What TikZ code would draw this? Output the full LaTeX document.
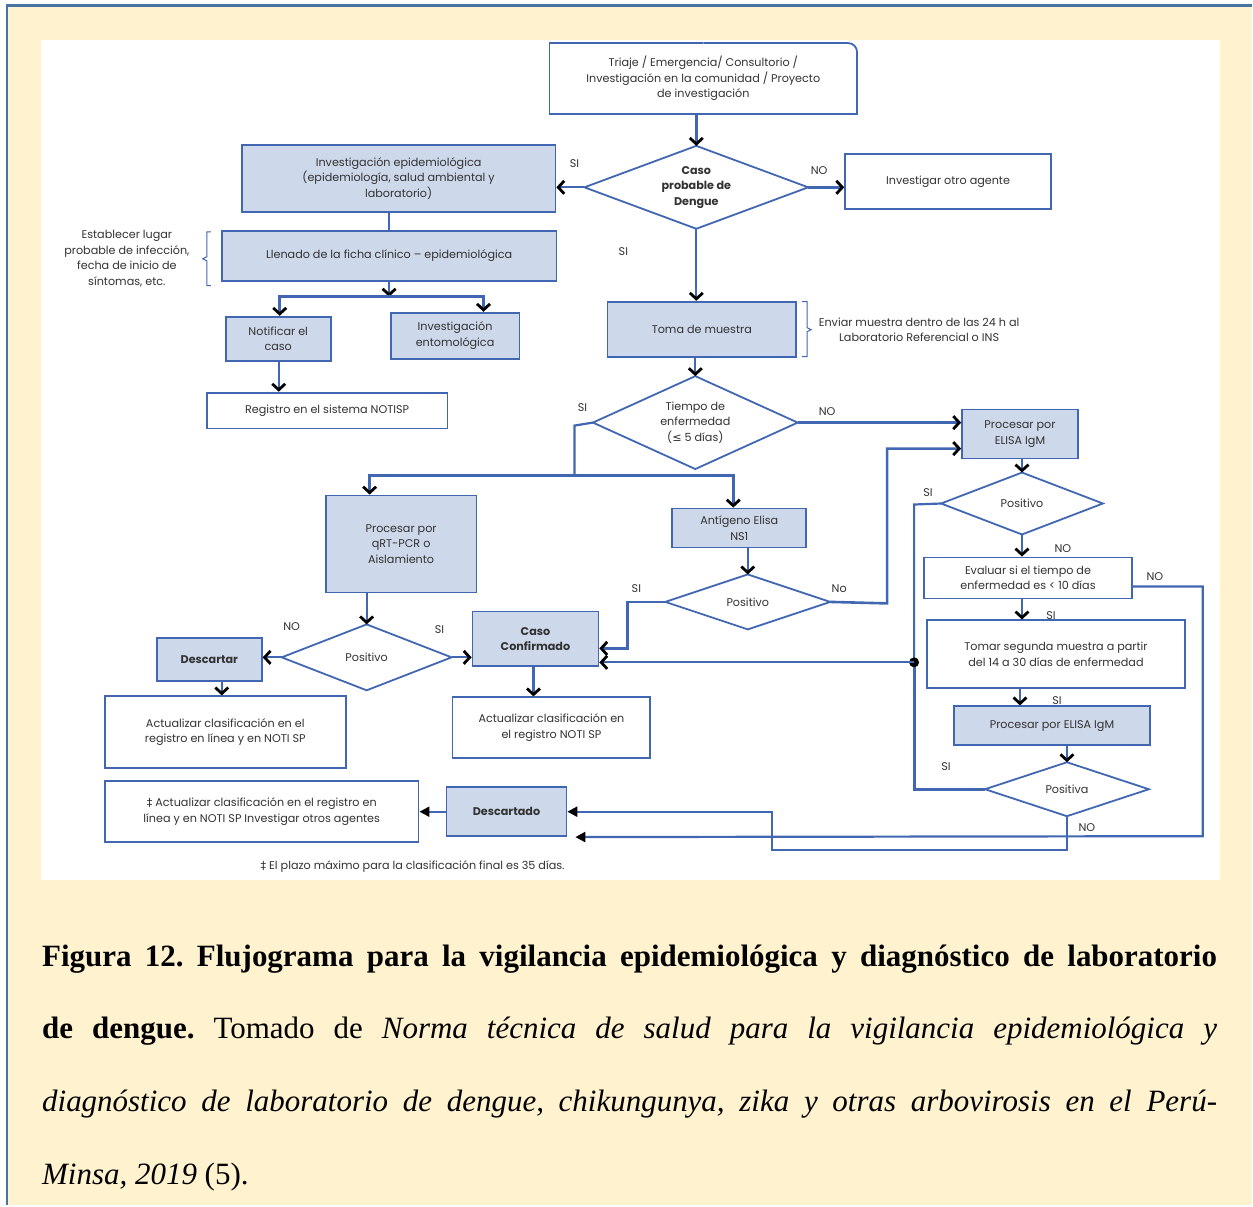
\documentclass[tikz,border=0pt]{standalone}
\usepackage{fontspec}
\setmainfont{Poppins}
\newfontfamily\capfont{Liberation Serif}
\newfontfamily\symf{DejaVu Sans}
\usetikzlibrary{arrows.meta}
\definecolor{bl}{RGB}{65,103,178}
\definecolor{fl}{RGB}{205,216,234}
\definecolor{tx}{RGB}{50,50,50}
\definecolor{cream}{RGB}{255,242,206}
\definecolor{framec}{RGB}{70,115,160}
\newcommand\dmd[7][]{%
  \node[align=center,inner sep=0pt,#1] (#2) at (#3,#4) {#7};
  \coordinate (#2-w) at ({#3-#5},#4);
  \coordinate (#2-e) at ({#3+#5},#4);
  \coordinate (#2-n) at (#3,{#4-#6});
  \coordinate (#2-s) at (#3,{#4+#6});
  \draw[dm] (#2-w) -- (#2-n) -- (#2-e) -- (#2-s) -- cycle;
}
\begin{document}
\frenchspacing
\begin{tikzpicture}[x=1pt,y=-1pt,
  every node/.style={text=tx,font=\fontsize{11.2}{15.5}\selectfont},
  bx/.style={draw=bl,line width=1.8pt,fill=white,align=center,inner sep=0pt},
  fbx/.style={bx,fill=fl},
  bold/.style={font=\bfseries\fontsize{11.2}{15.5}\selectfont},
  ln/.style={draw=bl,line width=2.2pt},
  arr/.style={ln,-{Straight Barb[color=black,length=6pt,width=13pt,line width=2.8pt]}},
  farr/.style={ln,-{Triangle[color=black,length=10pt,width=10pt]}},
  dm/.style={draw=bl,line width=1.8pt,line join=miter},
  lab/.style={inner sep=0pt},
  brk/.style={draw=bl,line width=1pt},
]
% background and frame
\fill[white] (0,0) rectangle (1253,1206);
\fill[cream] (6,4) rectangle (1253,1206);
\draw[framec,line width=2.5pt] (7.2,1206) -- (7.2,5.6) -- (1253,5.6);
\fill[white] (41,40) rectangle (1221,881);
\useasboundingbox (0,0) rectangle (1253,1206);

% ---------- boxes ----------
\node[bx,draw=none,minimum width=306pt,minimum height=69pt] (top) at (704,78.5)
  {Triaje / Emergencia/ Consultorio /\\Investigación en la comunidad / Proyecto\\de investigación};
\draw[bl,line width=1.8pt,rounded corners=9pt] (top.north) -- (top.north east) -- (top.east);
\draw[bl,line width=1.8pt] (top.east) -- (top.south east) -- (top.south west) -- (top.north west) -- (top.north);

\node[fbx,minimum width=314pt,minimum height=67pt] (inv) at (399,178.5)
  {Investigación epidemiológica\\(epidemiología, salud ambiental y\\laboratorio)};
\node[bx,minimum width=206pt,minimum height=55pt] (otro) at (949,181.5) {Investigar otro agente};
\node[fbx,minimum width=335pt,minimum height=50pt] (llen) at (389.5,256)
  {Llenado de la ficha clínico – epidemiológica};
\node[align=center,inner sep=0pt] (est) at (127,259)
  {Establecer lugar\\probable de infección,\\fecha de inicio de\\síntomas, etc.};
\node[fbx,minimum width=105pt,minimum height=44pt] (noti) at (278.5,339) {Notificar el\\caso};
\node[fbx,minimum width=129pt,minimum height=46pt] (ent) at (455.5,336) {Investigación\\entomológica};
\node[bx,minimum width=241pt,minimum height=36pt] (reg) at (327.5,411) {Registro en el sistema NOTISP};
\node[fbx,minimum width=189pt,minimum height=55pt] (toma) at (702.5,329.5) {Toma de muestra};
\node[align=center,inner sep=0pt] (env) at (920,330)
  {Enviar muestra dentro de las 24 h al\\Laboratorio Referencial o INS};
\node[fbx,minimum width=151pt,minimum height=97pt] (qrt) at (401.5,544.5)
  {Procesar por\\qRT-PCR o\\Aislamiento};
\node[fbx,minimum width=134pt,minimum height=39pt] (ant) at (740,528.5) {Antígeno Elisa\\NS1};
\node[fbx,minimum width=116pt,minimum height=49pt] (elisa1) at (1021,434.5) {Procesar por\\ELISA IgM};
\node[bx,minimum width=208pt,minimum height=41pt] (eval) at (1029,578.5)
  {Evaluar si el tiempo de\\enfermedad es < 10 días};
\node[bx,minimum width=258pt,minimum height=68pt] (tomar) at (1057,655)
  {Tomar segunda muestra a partir\\del 14 a 30 días de enfermedad};
\node[fbx,minimum width=196pt,minimum height=39pt] (elisa2) at (1053,726.5) {Procesar por ELISA IgM};
\node[fbx,bold,minimum width=105pt,minimum height=43pt] (desc) at (209.5,660.5) {Descartar};
\node[fbx,bold,minimum width=126pt,minimum height=55pt] (conf) at (536,639.5) {Caso\\Confirmado};
\node[bx,minimum width=241pt,minimum height=72pt] (act1) at (225.5,733)
  {Actualizar clasificación en el\\registro en línea y en NOTI SP};
\node[bx,minimum width=198pt,minimum height=61pt] (act2) at (552,728.5)
  {Actualizar clasificación en\\el registro NOTI SP};
\node[fbx,bold,minimum width=120pt,minimum height=49pt] (descdo) at (507,812.5) {Descartado};
\node[bx,minimum width=314pt,minimum height=61pt] (dag) at (262,812.5)
  {{\symf ‡} Actualizar clasificación en el registro en\\línea y en NOTI SP Investigar otros agentes};
\node[inner sep=0pt] (foot) at (413,867) {{\symf ‡} El plazo máximo para la clasificación final es 35 días.};

% ---------- diamonds ----------
\dmd[bold]{d1}{697}{187.5}{112}{41.5}{Caso\\probable de\\Dengue}
\dmd{d2}{696}{423}{102.5}{46.5}{Tiempo de\\enfermedad\\({\symf ≤} 5 días)}
\dmd{d3}{748.5}{602.5}{82.5}{27.5}{Positivo}
\dmd{d4}{1023}{504}{81}{31}{Positivo}
\dmd{d5}{1068}{790}{82}{27}{Positiva}
\dmd{d6}{367}{658}{85}{33}{Positivo}

% ---------- brackets ----------
\draw[brk] (211,232) -- (207,232) -- (207,257) -- (203,259) -- (207,261) -- (207,286) -- (211,286);
\draw[brk] (803,302) -- (808,302) -- (808,328) -- (812,330) -- (808,332) -- (808,357) -- (803,357);

% ---------- connectors ----------
\draw[arr,line width=3pt] (top.south -| d1-n) -- (d1-n);
\draw[arr] (d1-w) -- (inv.east |- d1-w);
\draw[arr,line width=2.8pt] (d1-e) -- (otro.west |- d1-e);
\draw[ln] (inv.south -| llen.north) -- (llen.north);
\coordinate (j1) at (389.5,297);
\draw[arr] (llen.south) -- (j1);
\draw[arr,line width=2.6pt] (j1) -| ([xshift=1.5pt]noti.north);
\draw[arr,line width=2.6pt] (j1) -| ([xshift=28.5pt]ent.north);
\draw[arr] ([xshift=0.5pt]noti.south) -- ([xshift=0.5pt]noti.south |- reg.north);
\draw[arr] (d1-s) -- (d1-s |- toma.north);
\draw[arr] (toma.south -| d2-n) -- (d2-n);
\coordinate (sij) at (575,476);
\draw[ln] (d2-w) -- (575,426) -- (sij);
\draw[arr,line width=3pt] (sij) -| ([xshift=-31.5pt]qrt.north);
\draw[arr,line width=3pt] (sij) -| ([xshift=-6pt]ant.north);
\draw[arr] (d2-e) -- (elisa1.west |- d2-e);
\draw[arr] (qrt.south -| d6-n) -- (d6-n);
\draw[arr] (ant.south -| d3-n) -- (d3-n);
\draw[arr,line width=2.6pt] (d3-w) -- ++(-38,0) |- ([yshift=-9.5pt]conf.east);
\draw[arr,line width=2.6pt] (d3-e) -- (888,604) |- ([yshift=-14.5pt]elisa1.west);
\draw[arr] (elisa1.south -| d4-n) -- (d4-n);
\draw[arr] (d4-s) -- (d4-s |- eval.north);
\coordinate (dot) at (915,663);
\draw[ln] (d4-w) -- (915,505) -- (dot);
\draw[ln,line width=2.8pt] (d5-w) -| (dot);
\fill[black] (dot) circle (5pt);
\draw[arr] (dot) -- (conf.east |- dot);
\draw[arr] (eval.south -| d4-s) -- (tomar.north -| d4-s);
\draw[arr] ([xshift=-36pt]tomar.south) -- ([xshift=-36pt]tomar.south |- elisa2.north);
\draw[arr] (elisa2.south -| d5-n) -- (d5-n);
\draw[farr] ([yshift=-8.5pt]eval.east) -- (1204,587) -- (1204,837) -- ([xshift=8pt]descdo.south east);
\draw[farr] (d5-s) |- (773,851) |- (descdo.east);
\draw[farr] (descdo.west) -- (dag.east |- descdo.west);
\draw[arr] (d6-w) -- (desc.east |- d6-w);
\draw[arr] (d6-e) -- (conf.west |- d6-e);
\draw[arr] ([xshift=12.5pt]desc.south) -- ([xshift=12.5pt]desc.south |- act1.north);
\draw[arr] ([xshift=-2pt]conf.south) -- ([xshift=-2pt]conf.south |- act2.north);

% ---------- labels ----------
\node[lab] (l1) at (575,164) {SI};
\node[lab] (l2) at (820,171) {NO};
\node[lab] (l3) at (624,252) {SI};
\node[lab] (l4) at (583,408) {SI};
\node[lab] (l5) at (828,412) {NO};
\node[lab] (l6) at (637,589) {SI};
\node[lab] (l7) at (840,589) {No};
\node[lab] (l8) at (292,627) {NO};
\node[lab] (l9) at (440,630) {SI};
\node[lab] (l10) at (929,493) {SI};
\node[lab] (l11) at (1064,549) {NO};
\node[lab] (l12) at (1156,577) {NO};
\node[lab] (l13) at (1052,616) {SI};
\node[lab] (l14) at (1058,701) {SI};
\node[lab] (l15) at (947,767) {SI};
\node[lab] (l16) at (1088,828) {NO};

% ---------- caption ----------
\begin{scope}[every node/.style={text=black,inner sep=0pt,anchor=base west,font=\capfont\fontsize{31}{31}\selectfont}]
\node (c1) at (42,967) {\makebox[1176pt][s]{\bfseries Figura 12. Flujograma para la vigilancia epidemiológica y diagnóstico de laboratorio}};
\node (c2) at (42,1040) {\makebox[1176pt][s]{\bfseries de dengue.\mdseries{} Tomado de \itshape Norma técnica de salud para la vigilancia epidemiológica y}};
\node (c3) at (42,1113) {\makebox[1176pt][s]{\itshape diagnóstico de laboratorio de dengue, chikungunya, zika y otras arbovirosis en el Perú-}};
\node (c4) at (42,1186) {\itshape Minsa, 2019\upshape{} (5).};
\end{scope}
\end{tikzpicture}
\end{document}
